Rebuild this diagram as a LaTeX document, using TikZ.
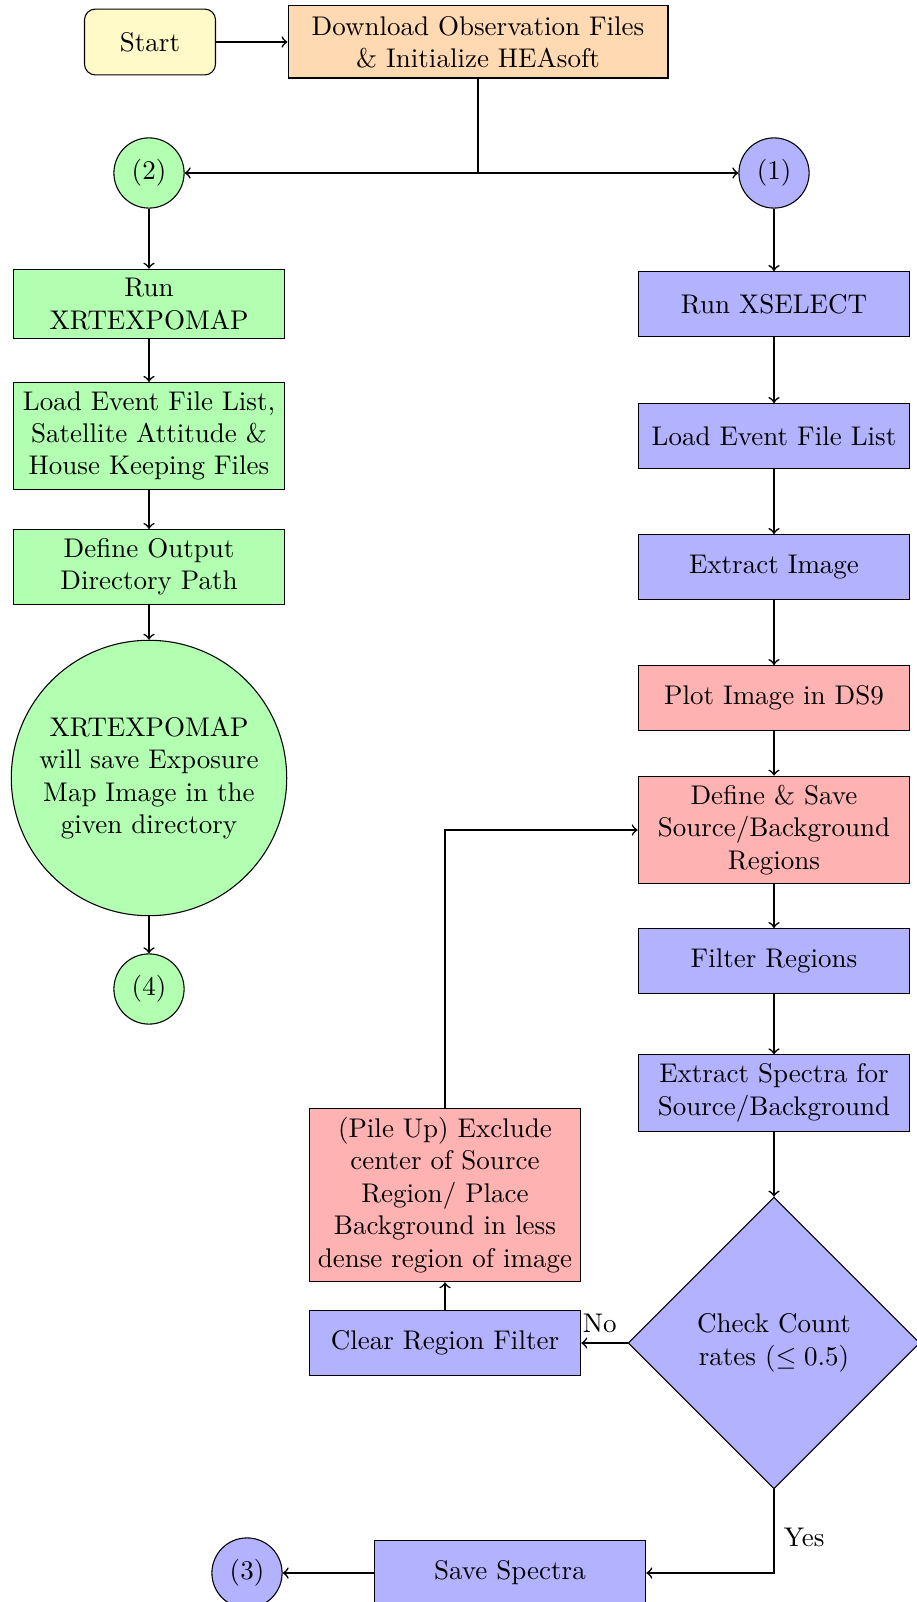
\documentclass[tikz,border=0pt]{standalone}
\usepackage{tikz}
\usepackage{amssymb}
\usetikzlibrary{shapes.geometric}
\definecolor{startyellow}{RGB}{255,250,200}

\begin{document}
\begin{tikzpicture}[x=0.013018cm,y=-0.013018cm,
            box/.style={draw, rectangle, text width=3.3cm, align=center, minimum height=24pt},
            bluebox/.style={box, fill=blue!30},
            greenbox/.style={box, fill=green!30},
            redbox/.style={box, fill=red!30},
            conn/.style={draw, circle, minimum size=26pt, inner sep=1pt},
            arr/.style={->, semithick}]
            \useasboundingbox (0,0) rectangle (916,1602);

            \draw (150,42) node[draw, rounded corners, fill=startyellow, minimum width=48.5pt, minimum height=24.4pt] (start) {Start};
            \draw (478,42) node[draw, fill=orange!30, minimum width=140.7pt, minimum height=26.7pt, align=center] (dlfiles) {Download Observation Files\\\& Initialize HEAsoft};
            \coordinate (split) at (478,173);

            \draw (149,173) node[conn, fill=green!30] (ctwo) {(2)};
            \draw (774,173) node[conn, fill=blue!30] (cone) {(1)};

            \draw (149,304) node[greenbox] (xrtexpo) {Run\\XRTEXPOMAP};
            \draw (149,436) node[greenbox] (loadatt) {Load Event File List,\\Satellite Attitude \&\\House Keeping Files};
            \draw (149,567) node[greenbox] (outdir) {Define Output\\Directory Path};
            \draw (149,778) node[draw, circle, fill=green!30, minimum size=102pt, inner sep=0pt, align=center] (expmap) {XRTEXPOMAP\\will save Exposure\\Map Image in the\\given directory};
            \draw (149,989) node[conn, fill=green!30] (cfour) {(4)};

            \draw (774,304) node[bluebox] (xsel) {Run XSELECT};
            \draw (774,436) node[bluebox] (loadevt) {Load Event File List};
            \draw (774,567) node[bluebox] (extimg) {Extract Image};
            \draw (774,698) node[redbox] (plotds) {Plot Image in DS9};
            \draw (774,830) node[redbox] (defreg) {Define \& Save\\Source/Background\\Regions};
            \draw (774,961) node[bluebox] (filtreg) {Filter Regions};
            \draw (774,1093) node[bluebox] (extspec) {Extract Spectra for\\Source/Background};
            \draw (774,1343) node[draw, diamond, aspect=1, fill=blue!30, minimum width=108pt, minimum height=108pt, inner sep=0pt, align=center] (check) {Check Count\\rates ($\leq 0.5$)};

            \draw (445,1343) node[bluebox] (clrfilt) {Clear Region Filter};
            \draw (445,1195) node[redbox, text width=3.4cm, inner xsep=1.9pt] (pileup) {(Pile Up) Exclude\\center of Source\\Region/ Place\\Background in less\\dense region of image};

            \draw (510,1573) node[bluebox] (savespec) {Save Spectra};
            \draw (247,1573) node[conn, fill=blue!30] (cthree) {(3)};

            % top
            \draw[arr] (start) -- (dlfiles);
            \draw[semithick] (dlfiles.south) -- (split);
            \draw[arr] (split) -- (ctwo);
            \draw[arr] (split) -- (cone);

            % left branch
            \draw[arr] (ctwo) -- (xrtexpo);
            \draw[arr] (xrtexpo) -- (loadatt);
            \draw[arr] (loadatt) -- (outdir);
            \draw[arr] (outdir) -- (expmap);
            \draw[arr] (expmap) -- (cfour);

            % right branch
            \draw[arr] (cone) -- (xsel);
            \draw[arr] (xsel) -- (loadevt);
            \draw[arr] (loadevt) -- (extimg);
            \draw[arr] (extimg) -- (plotds);
            \draw[arr] (plotds) -- (defreg);
            \draw[arr] (defreg) -- (filtreg);
            \draw[arr] (filtreg) -- (extspec);
            \draw[arr] (extspec) -- (check);

            % decision
            \draw[arr] (check.west) -- (clrfilt.east) node[pos=0.6, above] {No};
            \draw[arr] (clrfilt) -- (pileup);
            \draw[arr] (pileup.north) |- (defreg.west);
            \draw[arr] (check.south) |- (savespec.east) node[pos=0.29, right] {Yes};
            \draw[arr] (savespec) -- (cthree);
\end{tikzpicture}
\end{document}
